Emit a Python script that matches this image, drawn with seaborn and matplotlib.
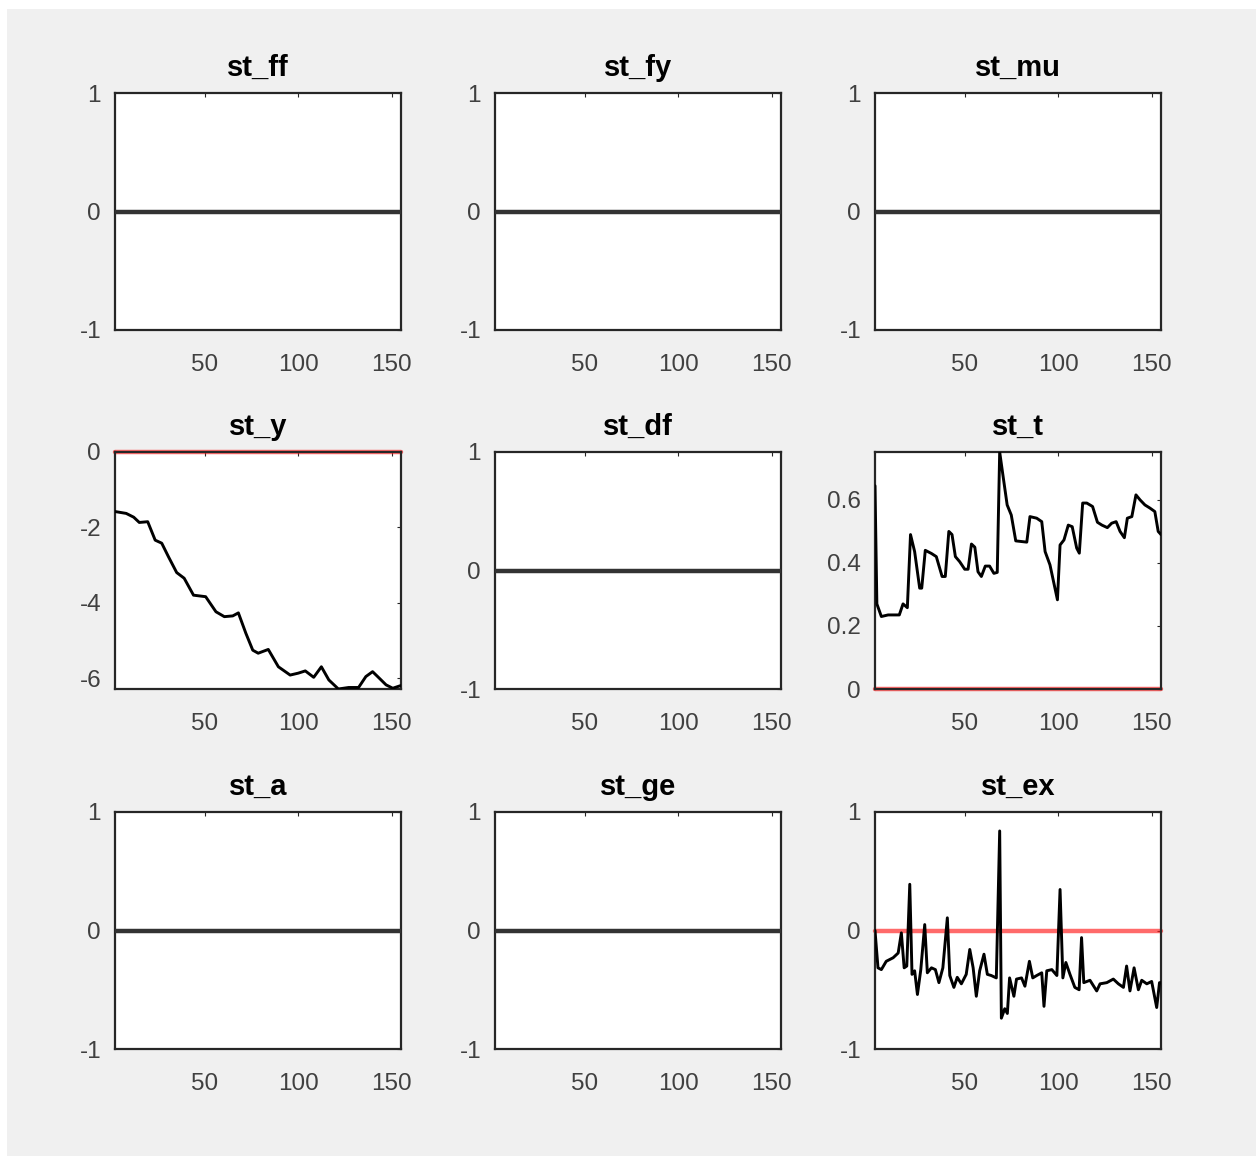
import numpy as np
import pandas as pd
import seaborn as sns
import matplotlib.pyplot as plt
from matplotlib.patches import Rectangle

sns.set_theme(style="white")
plt.rcParams["font.family"] = ["Liberation Sans", "DejaVu Sans"]

names = ["st_ff", "st_fy", "st_mu", "st_y", "st_df", "st_t", "st_a", "st_ge", "st_ex"]

# flat (all-zero) responses
flat_x = [2, 155]
flat_v = [0.0, 0.0]

st_y_x = [2, 8, 12, 15, 19.5, 23.5, 27, 30.6, 35, 39, 44, 50.5, 56, 60.5, 65, 68,
          72, 75.7, 78.6, 84, 89.4, 95.7, 100, 103.8, 108.3, 112.4, 116.4, 121.5,
          127, 132.3, 136.2, 139.8, 142.5, 147, 150.6, 154.2, 155]
st_y_v = [-1.58, -1.63, -1.73, -1.87, -1.85, -2.34, -2.42, -2.78, -3.2, -3.35, -3.8,
          -3.84, -4.24, -4.37, -4.35, -4.27, -4.81, -5.26, -5.34, -5.24, -5.7, -5.92,
          -5.87, -5.81, -5.98, -5.7, -6.05, -6.29, -6.25, -6.25, -5.96, -5.83, -5.96,
          -6.18, -6.27, -6.21, -6.2]

st_t_x = [2, 3, 5.4, 9, 15, 17, 19.3, 21, 23.2, 25.9, 27, 28.9, 32.2, 34.8, 37.9,
          39.6, 41.5, 43.2, 45, 47.3, 50, 51.8, 53.6, 55.4, 57.1, 58.9, 61, 63.3,
          65.6, 67.4, 68.7, 70.4, 72.7, 74.9, 77.3, 83.2, 84.9, 88.5, 91.2, 93,
          95.6, 99.6, 101, 103.1, 105.4, 107.5, 109.9, 111.3, 113.1, 115.3, 118.4,
          121, 123.4, 126.3, 128.6, 131, 133.1, 135.4, 137, 139.4, 141.6, 143.8,
          146.4, 149.1, 151.7, 153.5, 155]
st_t_v = [0.645, 0.27, 0.23, 0.235, 0.235, 0.27, 0.258, 0.49, 0.436, 0.32, 0.32,
          0.44, 0.43, 0.42, 0.357, 0.357, 0.5, 0.49, 0.42, 0.404, 0.38, 0.38, 0.46,
          0.45, 0.372, 0.357, 0.39, 0.39, 0.367, 0.37, 0.752, 0.68, 0.584, 0.552,
          0.47, 0.466, 0.547, 0.542, 0.531, 0.436, 0.394, 0.283, 0.457, 0.473, 0.52,
          0.515, 0.447, 0.431, 0.59, 0.59, 0.579, 0.529, 0.52, 0.512, 0.526, 0.531,
          0.5, 0.48, 0.542, 0.547, 0.616, 0.6, 0.584, 0.574, 0.563, 0.5, 0.49]

st_ex_x = [2, 3.6, 5.4, 8, 11.7, 14.4, 16.1, 17.6, 19, 20.6, 21.8, 23.2, 24.7, 26.5,
           28.6, 30, 32.2, 34.3, 36.2, 38.3, 40.7, 42, 44.2, 46, 48.2, 50.8, 52.7,
           54.5, 56.2, 58, 60.3, 62.1, 64.2, 66.9, 68.7, 69.6, 71.4, 72.8, 74, 76.3,
           77.7, 80.4, 82.2, 84.6, 86.4, 88.5, 91.2, 92.4, 93.9, 96.6, 99.3, 101,
           102.5, 104.1, 106.3, 108.9, 111.2, 112.5, 113.7, 117, 120.6, 122.4, 126,
           129.5, 132.2, 134.9, 136.6, 138.4, 140.6, 142.9, 144.7, 147.4, 150,
           152.7, 154.2, 155]
st_ex_v = [0.0, -0.315, -0.33, -0.26, -0.23, -0.19, -0.02, -0.315, -0.3, 0.39, -0.37,
           -0.34, -0.54, -0.33, 0.05, -0.357, -0.315, -0.33, -0.44, -0.315, 0.107,
           -0.38, -0.48, -0.395, -0.45, -0.37, -0.16, -0.315, -0.555, -0.34, -0.2,
           -0.37, -0.38, -0.4, 0.84, -0.74, -0.66, -0.7, -0.4, -0.555, -0.41, -0.4,
           -0.47, -0.26, -0.4, -0.38, -0.357, -0.64, -0.34, -0.33, -0.38, 0.346,
           -0.4, -0.27, -0.37, -0.48, -0.5, -0.06, -0.44, -0.42, -0.51, -0.45, -0.44,
           -0.41, -0.45, -0.48, -0.3, -0.51, -0.315, -0.5, -0.42, -0.45, -0.43,
           -0.65, -0.44, -0.44]

series = {
    "st_y": (st_y_x, st_y_v, (-6.29, 0), [-6, -4, -2, 0], ["-6", "-4", "-2", "0"]),
    "st_t": (st_t_x, st_t_v, (0, 0.752), [0, 0.2, 0.4, 0.6], ["0", "0.2", "0.4", "0.6"]),
    "st_ex": (st_ex_x, st_ex_v, (-1, 1), [-1, 0, 1], ["-1", "0", "1"]),
}

W, H = 1256, 1156
fig = plt.figure(figsize=(W / 100, H / 100), dpi=100, facecolor="white")
fig.patches.append(Rectangle((7 / W, 0), 1, 1 - 9 / H, transform=fig.transFigure,
                             facecolor="#f0f0f0", edgecolor="none", zorder=-10))

col_left = [115, 495, 875]
row_top = [93, 452, 812]
aw, ah = 286, 237
tick_col = "#404040"

for i, name in enumerate(names):
    r, c = divmod(i, 3)
    ax = fig.add_axes([col_left[c] / W, 1 - (row_top[r] + ah) / H, aw / W, ah / H])
    ax.set_facecolor("white")
    if name in series:
        xs, vs, ylim, yt, ytl = series[name]
        ax.axhline(0, color="#ff1a1a", alpha=0.65, lw=3.2, zorder=2, clip_on=False)
        col, lw = "black", 2.1
    else:
        xs, vs, ylim, yt, ytl = flat_x, flat_v, (-1, 1), [-1, 0, 1], ["-1", "0", "1"]
        ax.axhline(0, color="#ff2020", alpha=0.6, lw=2, zorder=2)
        col, lw = "#333333", 3.2
    df = pd.DataFrame({"t": xs, "v": vs})
    sns.lineplot(data=df, x="t", y="v", ax=ax, color=col, lw=lw, zorder=3,
                 sort=False, estimator=None)
    ax.set_xlim(2, 155)
    ax.set_ylim(*ylim)
    ax.set_xticks([50, 100, 150])
    ax.set_xticklabels(["50", "100", "150"])
    ax.set_yticks(yt)
    ax.set_yticklabels(ytl)
    ax.set_xlabel("")
    ax.set_ylabel("")
    ax.tick_params(direction="in", length=3, width=0.8, colors="#262626",
                   labelcolor=tick_col, labelsize=17.5, top=True, right=True)
    ax.tick_params(axis="x", pad=17)
    ax.tick_params(axis="y", pad=10)
    for s in ax.spines.values():
        s.set_color("#262626")
        s.set_linewidth(1.6)
        s.set_visible(True)
    ax.set_title(name, fontsize=21, fontweight="bold", color="black", pad=12)

fig.savefig("out.png", dpi=100, facecolor=fig.get_facecolor())
